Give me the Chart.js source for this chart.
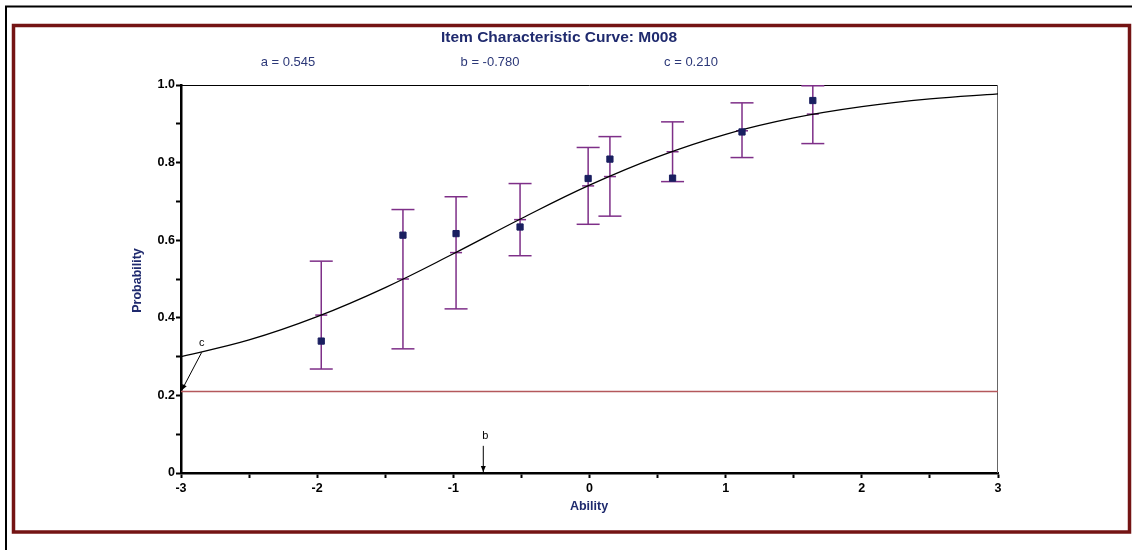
<!DOCTYPE html>
<html>
<head>
<meta charset="utf-8">
<title>Item Characteristic Curve: M008</title>
<script src="https://cdn.jsdelivr.net/npm/chart.js@4.4.1/dist/chart.umd.min.js"></script>
<style>
    html, body { margin: 0; padding: 0; background: #fff; }
    canvas { display: block; }
</style>
</head>
<body>
<canvas id="icc" width="1132" height="550"></canvas>
<script>
// Item parameters printed above the plot
const paramLabels = ["a = 0.545", "b = -0.780", "c = 0.210"];
const paramB = -0.78;
const paramC = 0.21;

// Fitted curve
const curveTheta = [-3, -2.5, -2, -1.5, -1, -0.5, 0, 0.5, 1, 1.5, 2, 2.5, 3];
const curveProb = [0.300, 0.343, 0.403, 0.478, 0.565, 0.656, 0.742, 0.815, 0.873, 0.915, 0.944, 0.964, 0.977];

// Observed proportions and their error bars
const obsTheta = [-1.97, -1.37, -0.98, -0.51, -0.01, 0.15, 0.61, 1.12, 1.64];
const obsProb = [0.340, 0.613, 0.617, 0.634, 0.759, 0.809, 0.760, 0.879, 0.960];
const barLow = [0.268, 0.320, 0.423, 0.560, 0.641, 0.662, 0.751, 0.813, 0.849];
const barHigh = [0.546, 0.679, 0.712, 0.746, 0.839, 0.867, 0.905, 0.954, 0.998];
const barFit = [0.407, 0.500, 0.568, 0.653, 0.740, 0.764, 0.828, 0.882, 0.925];

// Tick labels
const xTickLabels = ["-3", "-2", "-1", "0", "1", "2", "3"];
const yTickLabels = ["0", "0.2", "0.4", "0.6", "0.8", "1.0"];

// "c" annotation: arrow from the curve down to the asymptote
const cArrowFrom = [-2.848, 0.311];
const cArrowTo = [-2.995, 0.213];

const NAVY = "#1f2a6e";
const PURPLE = "#7e2f88";
const FONT = "'Liberation Sans', Arial, sans-serif";

function arrow(ctx, x1, y1, x2, y2) {
    const ang = Math.atan2(y2 - y1, x2 - x1);
    const len = 6, half = 2.5;
    ctx.beginPath();
    ctx.moveTo(x1, y1);
    ctx.lineTo(x2, y2);
    ctx.stroke();
    ctx.beginPath();
    ctx.moveTo(x2, y2);
    ctx.lineTo(x2 - len * Math.cos(ang) + half * Math.sin(ang), y2 - len * Math.sin(ang) - half * Math.cos(ang));
    ctx.lineTo(x2 - len * Math.cos(ang) - half * Math.sin(ang), y2 - len * Math.sin(ang) + half * Math.cos(ang));
    ctx.closePath();
    ctx.fill();
}

const frame = {
    id: "frame",
    beforeDraw(chart) {
        const ctx = chart.ctx;
        ctx.save();
        ctx.fillStyle = "#fff";
        ctx.fillRect(0, 0, chart.width, chart.height);
        // outer black frame (top and left only visible)
        ctx.strokeStyle = "#000";
        ctx.lineWidth = 2;
        ctx.beginPath();
        ctx.moveTo(6, chart.height);
        ctx.lineTo(6, 6.5);
        ctx.lineTo(chart.width, 6.5);
        ctx.stroke();
        // maroon panel border
        ctx.strokeStyle = "#741414";
        ctx.lineWidth = 3.5;
        ctx.strokeRect(13.5, 25.5, 1116, 506.5);
        ctx.restore();
    },
    beforeDatasetsDraw(chart) {
        const { ctx, chartArea: a } = chart;
        ctx.save();
        ctx.lineWidth = 1;
        ctx.strokeStyle = "#000";
        ctx.beginPath();
        ctx.moveTo(a.left, a.top + 0.5);
        ctx.lineTo(a.right, a.top + 0.5);
        ctx.stroke();
        ctx.strokeStyle = "#666";
        ctx.beginPath();
        ctx.moveTo(a.right - 0.5, a.top);
        ctx.lineTo(a.right - 0.5, a.bottom);
        ctx.stroke();
        ctx.restore();
    },
    afterDraw(chart) {
        const ctx = chart.ctx;
        const xs = chart.scales.x, ys = chart.scales.y;
        ctx.save();
        ctx.textAlign = "center";
        ctx.textBaseline = "middle";

        ctx.fillStyle = NAVY;
        ctx.font = "bold 15.5px " + FONT;
        ctx.fillText("Item Characteristic Curve: M008", 559, 37.5);

        ctx.fillStyle = "#2c3878";
        ctx.font = "13px " + FONT;
        const paramX = [288, 490, 691];
        paramLabels.forEach((t, i) => ctx.fillText(t, paramX[i], 62.5));

        ctx.fillStyle = NAVY;
        ctx.font = "bold 12.5px " + FONT;
        ctx.fillText("Ability", 589, 506.5);
        ctx.save();
        ctx.translate(138, 280.5);
        ctx.rotate(-Math.PI / 2);
        ctx.fillText("Probability", 0, 0);
        ctx.restore();

        // annotations
        ctx.fillStyle = "#000";
        ctx.strokeStyle = "#000";
        ctx.lineWidth = 1;
        ctx.font = "11px " + FONT;
        const cx1 = xs.getPixelForValue(cArrowFrom[0]), cy1 = ys.getPixelForValue(cArrowFrom[1]);
        arrow(ctx, cx1, cy1, xs.getPixelForValue(cArrowTo[0]), ys.getPixelForValue(cArrowTo[1]));
        ctx.fillText("c", cx1, cy1 - 9.5);

        const bx = xs.getPixelForValue(paramB);
        const by1 = ys.getPixelForValue(0.07);
        arrow(ctx, bx, by1, bx, ys.getPixelForValue(0) - 1);
        ctx.fillText("b", bx + 2, by1 - 10);
        ctx.restore();
    }
};

const errData = [];
obsTheta.forEach((t, i) => {
    errData.push({ x: t, y: barLow[i] }, { x: t, y: barHigh[i] }, { x: t, y: null });
});

const tickFont = { family: FONT, size: 12.5, weight: "bold" };

new Chart(document.getElementById("icc"), {
    type: "scatter",
    data: {
        datasets: [
            {
                data: obsTheta.map((t, i) => ({ x: t, y: obsProb[i] })),
                pointStyle: "rect",
                pointRadius: 4.4,
                pointBackgroundColor: "#1a1f60",
                pointBorderColor: "#1a1f60",
                pointBorderWidth: 1,
                order: 1,
                clip: false
            },
            {
                data: curveTheta.map((t, i) => ({ x: t, y: curveProb[i] })),
                showLine: true,
                pointRadius: 0,
                borderColor: "#000",
                borderWidth: 1.3,
                tension: 0.4,
                order: 2
            },
            {
                data: obsTheta.map((t, i) => ({ x: t, y: barFit[i] })),
                pointStyle: "line",
                pointRadius: 6,
                pointBorderColor: PURPLE,
                pointBorderWidth: 1.5,
                order: 3,
                clip: false
            },
            {
                data: errData,
                showLine: true,
                spanGaps: false,
                borderColor: PURPLE,
                borderWidth: 1.5,
                pointStyle: "line",
                pointRadius: 11.5,
                pointBorderColor: PURPLE,
                pointBorderWidth: 1.5,
                order: 4,
                clip: false
            },
            {
                data: [{ x: -3, y: paramC }, { x: 3, y: paramC }],
                showLine: true,
                pointRadius: 0,
                borderColor: "#b4585c",
                borderWidth: 1.5,
                order: 5
            }
        ]
    },
    options: {
        responsive: false,
        animation: false,
        devicePixelRatio: 1,
        events: [],
        layout: { padding: { top: 85, right: 134, left: 0, bottom: 0 } },
        plugins: {
            legend: { display: false },
            tooltip: { enabled: false }
        },
        scales: {
            x: {
                type: "linear",
                min: -3,
                max: 3,
                afterFit: s => { s.height = 77; },
                border: { color: "#000", width: 2.5 },
                grid: { drawOnChartArea: false, color: "#000", tickLength: 5, tickWidth: 2 },
                ticks: {
                    stepSize: 0.5,
                    autoSkip: false,
                    maxRotation: 0,
                    padding: 3,
                    color: "#000",
                    font: tickFont,
                    callback: v => {
                        const lbl = String(Math.round(v));
                        return Number.isInteger(v) && xTickLabels.includes(lbl) ? lbl : "";
                    }
                }
            },
            y: {
                type: "linear",
                min: 0,
                max: 1,
                afterFit: s => { s.width = 181; },
                border: { color: "#000", width: 2.5 },
                grid: { drawOnChartArea: false, color: "#000", tickLength: 5, tickWidth: 2 },
                ticks: {
                    stepSize: 0.1,
                    autoSkip: false,
                    padding: 1,
                    color: "#000",
                    font: tickFont,
                    callback: v => {
                        const r = Math.round(v * 10);
                        return r % 2 === 0 ? yTickLabels[r / 2] : "";
                    }
                }
            }
        }
    },
    plugins: [frame]
});
</script>
</body>
</html>
